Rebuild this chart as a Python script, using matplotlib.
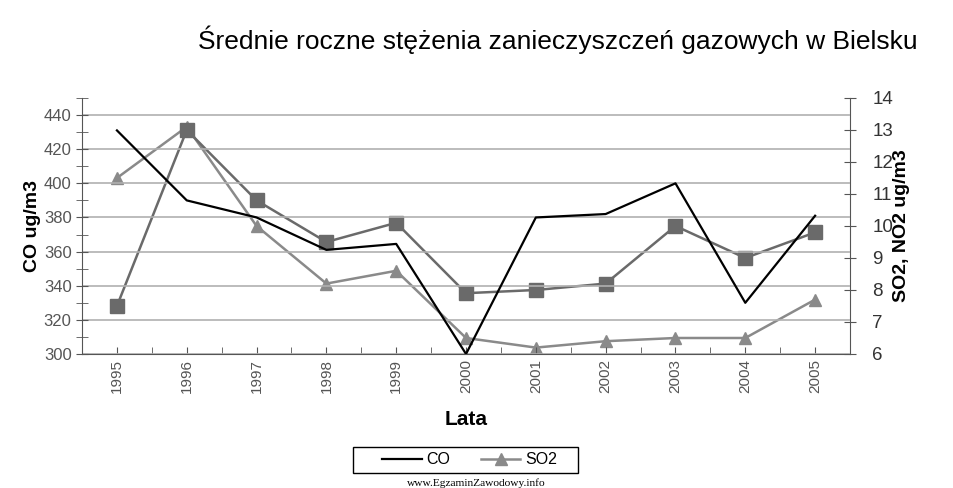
import matplotlib.pyplot as plt
from matplotlib.ticker import MultipleLocator
from matplotlib.patches import Rectangle

years = ['1995', '1996', '1997', '1998', '1999', '2000',
         '2001', '2002', '2003', '2004', '2005']
co = [431, 390, 380, 361, 364.5, 300, 380, 382, 400, 330, 381]        # lewa os
so2 = [11.5, 13.1, 10.0, 8.2, 8.6, 6.5, 6.2, 6.4, 6.5, 6.5, 7.7]      # prawa os
no2 = [7.5, 13.0, 10.8, 9.5, 10.1, 7.9, 8.0, 8.2, 10.0, 9.0, 9.8]      # prawa os

plt.rcParams['font.family'] = ['Liberation Sans', 'DejaVu Sans']

fig = plt.figure(figsize=(9.54, 4.88), dpi=100)
ax = fig.add_axes([0.086, 0.2746, 0.805, 0.5246])
ax2 = ax.twinx()

x = list(range(len(years)))

ax.plot(x, co, color='black', lw=1.6, label='CO', zorder=5)
ax2.plot(x, so2, color='#8a8a8a', lw=1.8, marker='^', ms=9, label='SO2')
ax2.plot(x, no2, color='#6a6a6a', lw=1.8, marker='s', ms=9.5, label='NO2')

ax.set_zorder(ax2.get_zorder() + 1)
ax.patch.set_visible(False)

ax.set_xlim(-0.5, len(years) - 0.5)
ax.set_ylim(300, 450)
ax2.set_ylim(6, 14)
ax.set_yticks(range(300, 441, 20))
ax.yaxis.set_minor_locator(MultipleLocator(10))
ax2.yaxis.set_major_locator(MultipleLocator(1))
ax.set_xticks(x)
ax.set_xticklabels(years, rotation=90, color='#555555', fontsize=11)
ax.xaxis.set_minor_locator(MultipleLocator(0.5))

ax.grid(axis='y', color='#b0b0b0', lw=1.2)
ax.set_axisbelow(True)

for a in (ax, ax2):
    for s in a.spines.values():
        s.set_visible(False)
ax.spines['left'].set_visible(True)
ax.spines['bottom'].set_visible(True)
ax2.spines['right'].set_visible(True)
for s in ('left', 'bottom'):
    ax.spines[s].set_color('#555555')
ax2.spines['right'].set_color('#555555')

ax.tick_params(axis='y', which='both', direction='inout', length=8, color='#555555',
               labelcolor='#555555', labelsize=12)
ax.tick_params(axis='x', which='both', direction='in', length=5, color='#555555')
ax2.tick_params(axis='y', direction='inout', length=8, color='#555555',
                labelcolor='#333333', labelsize=13.5, pad=12)

ax.set_ylabel('CO ug/m3', fontsize=14, fontweight='bold', labelpad=2)
ax2.set_ylabel('SO2, NO2 ug/m3', fontsize=14, fontweight='bold', labelpad=0)
ax.set_xlabel('Lata', fontsize=15, fontweight='bold')
ax.xaxis.set_label_coords(0.5, -0.22)

fig.text(0.585, 0.918, 'Średnie roczne stężenia zanieczyszczeń gazowych w Bielsku',
         ha='center', va='center', fontsize=19)

# ramka legendy
fig.patches.append(Rectangle((353 / 954, 1 - 473 / 488), 225 / 954, 26 / 488,
                             transform=fig.transFigure, fill=False,
                             edgecolor='black', lw=1))
h1, l1 = ax.get_legend_handles_labels()
h2, l2 = ax2.get_legend_handles_labels()
fig.legend(h1 + h2[:1], l1 + l2[:1], loc='center', bbox_to_anchor=(0.492, 1 - 460 / 488),
           ncol=2, frameon=False, fontsize=11.5, handlelength=2.5,
           handletextpad=0.3, columnspacing=1.9, borderpad=0)

fig.text(0.499, 1 - 483 / 488, 'www.EgzaminZawodowy.info', ha='center', va='center',
         fontsize=8.2, family='Liberation Serif')

fig.savefig('out.png', dpi=100)
